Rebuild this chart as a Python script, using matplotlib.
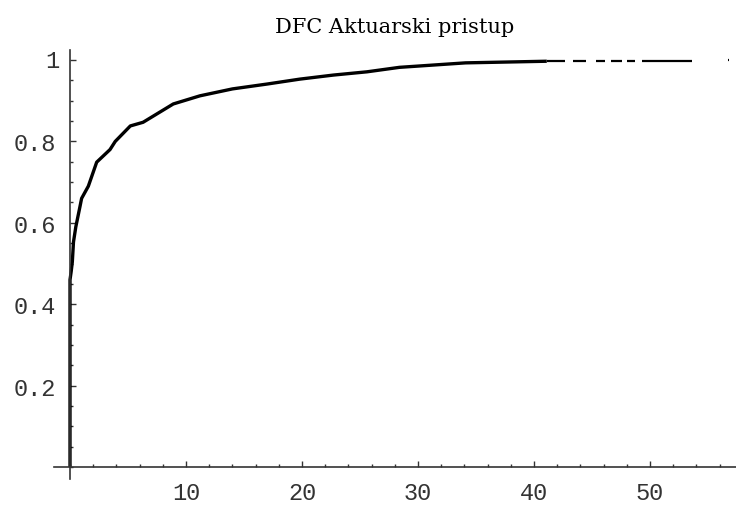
import numpy as np
import matplotlib
matplotlib.use("Agg")
import matplotlib.pyplot as plt
from matplotlib.ticker import MultipleLocator, FixedLocator, FixedFormatter

# ==========================
# Data
# ==========================
x_vals = [0.0, 0.0, 0.1, 0.2, 0.3, 0.5, 0.86, 1.0, 1.58, 2.3, 3.45, 3.9,
          5.2, 6.3, 8.9, 11.2, 14.0, 17.0, 19.8, 22.7, 25.6, 28.4, 34.1, 41.1]
y_vals = [0.0, 0.46, 0.48, 0.504, 0.553, 0.59, 0.64, 0.66, 0.69, 0.749, 0.78, 0.80,
          0.838, 0.847, 0.892, 0.912, 0.929, 0.941, 0.953, 0.963, 0.971, 0.982, 0.993, 0.997]

# sparse tail: (start, end) of the short dashes near 1
tail_start = [41.1, 43.4, 45.3, 46.6, 48.0, 49.3, 56.7]
tail_end = [42.7, 44.5, 46.1, 47.6, 48.7, 53.6, 56.8]
tail_y = [0.997, 0.998, 0.998, 0.998, 0.998, 0.998, 0.999]

x_ticks = [10, 20, 30, 40, 50]
y_ticks = [0.2, 0.4, 0.6, 0.8, 1.0]
y_labels = ["0.2", "0.4", "0.6", "0.8", ""]

# ==========================
# Draw
# ==========================
fig = plt.figure(figsize=(7.36, 5.06), dpi=100)
ax = fig.add_axes([54 / 736, 26 / 506, 682 / 736, 429 / 506])

ax.plot(x_vals, y_vals, color="black", lw=2.4, solid_capstyle="butt")
ax.hlines(tail_y, tail_start, tail_end, color="black", lw=1.6)

ax.set_xlim(-1.38, 57.41)
ax.set_ylim(-0.0295, 1.0246)

for s in ["top", "right"]:
    ax.spines[s].set_visible(False)
for s in ["left", "bottom"]:
    ax.spines[s].set_position(("data", 0))
    ax.spines[s].set_color("#333333")
    ax.spines[s].set_linewidth(1.2)

ax.xaxis.set_major_locator(FixedLocator(x_ticks))
ax.xaxis.set_minor_locator(MultipleLocator(2))
ax.yaxis.set_major_locator(FixedLocator(y_ticks))
ax.yaxis.set_major_formatter(FixedFormatter(y_labels))
ax.yaxis.set_minor_locator(MultipleLocator(0.05))

ax.tick_params(which="both", direction="in", color="#333333", width=1.0,
               labelsize=17, labelcolor="#333333")
ax.tick_params(which="major", length=4)
ax.tick_params(which="minor", length=2.2)
ax.tick_params(axis="x", pad=10)
ax.tick_params(axis="y", pad=10)
for lab in ax.get_xticklabels() + ax.get_yticklabels():
    lab.set_family("Liberation Mono")

# the "1" label sits closer to the axis than the decimal ones
ax.annotate("1", xy=(0, 1.0), xycoords="data", xytext=(-8, 0),
            textcoords="offset points", ha="right", va="center",
            fontsize=17, family="Liberation Mono", color="#333333")

ax.set_title("DFC Aktuarski pristup", family="DejaVu Serif", fontsize=15,
             pad=13)

fig.savefig("out.png", dpi=100)
